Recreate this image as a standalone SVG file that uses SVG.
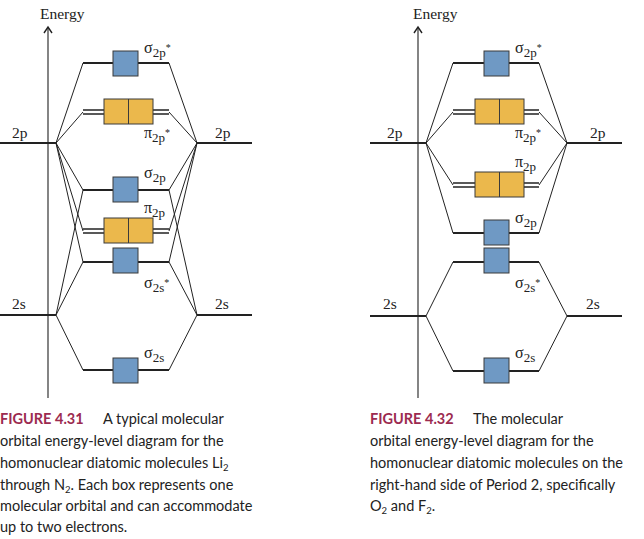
<svg xmlns="http://www.w3.org/2000/svg" width="644" height="539" viewBox="0 0 644 539">
<style>
.lvl{stroke:#222;stroke-width:2;fill:none}
.lv2{stroke:#222;stroke-width:1.6;fill:none}
.ax{stroke:#333;stroke-width:1.2;fill:none}
.con line{stroke:#222;stroke-width:1}
.bl{fill:#6f99c4;stroke:#3a3a3a;stroke-width:1}
.or{fill:#ebb84c;stroke:#3a3a3a;stroke-width:1}
.div{stroke:#3a3a3a;stroke-width:1}
.t{font-family:"Liberation Serif","DejaVu Serif",serif;font-size:15.5px;fill:#222}
.mo{font-family:"Liberation Serif","DejaVu Serif",serif;font-size:16px;fill:#222}
.sub{font-size:13px}
.sup{font-size:10px}
.cap{font-family:Lato,"Open Sans","Liberation Sans",sans-serif;font-size:14.5px;fill:#222}
.fig{font-weight:bold;fill:#9c2b50;font-size:14.5px}
.cs{font-size:9.5px}
</style>

<!-- ============ LEFT DIAGRAM (Fig 4.31) ============ -->
<g id="axis-left">
<line class="ax" x1="48" y1="27" x2="48" y2="398"/>
<path d="M44,33 L48,27 L52,33" fill="none" stroke="#222" stroke-width="1.4"/>
<text class="t" x="40" y="19">Energy</text>
</g>

<g id="connectors-left" class="con">
<line x1="56" y1="143" x2="83" y2="63"/>
<line x1="56" y1="143" x2="83" y2="112"/>
<line x1="56" y1="143" x2="83" y2="190"/>
<line x1="56" y1="143" x2="83" y2="231"/>
<line x1="56" y1="143" x2="83" y2="262"/>
<line x1="56" y1="315" x2="83" y2="190"/>
<line x1="56" y1="315" x2="83" y2="262"/>
<line x1="56" y1="315" x2="83" y2="370"/>
<line x1="197" y1="143" x2="169" y2="63"/>
<line x1="197" y1="143" x2="169" y2="112"/>
<line x1="197" y1="143" x2="169" y2="190"/>
<line x1="197" y1="143" x2="169" y2="231"/>
<line x1="197" y1="143" x2="169" y2="262"/>
<line x1="197" y1="315" x2="169" y2="190"/>
<line x1="197" y1="315" x2="169" y2="262"/>
<line x1="197" y1="315" x2="169" y2="370"/>
</g>

<g id="L-2p-left"><line class="lvl" x1="0" y1="143" x2="56" y2="143"/><text class="t" x="12" y="138">2p</text></g>
<g id="L-2p-right"><line class="lvl" x1="197" y1="143" x2="252" y2="143"/><text class="t" x="215" y="138">2p</text></g>
<g id="L-2s-left"><line class="lvl" x1="0" y1="315" x2="56" y2="315"/><text class="t" x="12" y="309">2s</text></g>
<g id="L-2s-right"><line class="lvl" x1="197" y1="315" x2="252" y2="315"/><text class="t" x="215" y="309">2s</text></g>

<g id="L-sigma2p-star">
<line class="lvl" x1="83" y1="63" x2="169" y2="63"/>
<rect class="bl" x="113" y="51" width="25" height="25"/>
<text class="mo" x="144" y="53">σ<tspan class="sub" dy="4">2p</tspan><tspan class="sup" dy="-6">*</tspan></text>
</g>
<g id="L-pi2p-star">
<line class="lv2" x1="83" y1="110" x2="169" y2="110"/>
<line class="lv2" x1="83" y1="114" x2="169" y2="114"/>
<rect class="or" x="104" y="99" width="49" height="25"/>
<line class="div" x1="128.5" y1="99" x2="128.5" y2="124"/>
<text class="mo" x="144" y="138">π<tspan class="sub" dy="4">2p</tspan><tspan class="sup" dy="-6">*</tspan></text>
</g>
<g id="L-sigma2p">
<line class="lvl" x1="83" y1="190" x2="169" y2="190"/>
<rect class="bl" x="113" y="177" width="25" height="25"/>
<text class="mo" x="144" y="178">σ<tspan class="sub" dy="4">2p</tspan></text>
</g>
<g id="L-pi2p">
<line class="lv2" x1="83" y1="229" x2="169" y2="229"/>
<line class="lv2" x1="83" y1="233" x2="169" y2="233"/>
<rect class="or" x="104" y="218" width="49" height="25"/>
<line class="div" x1="128.5" y1="218" x2="128.5" y2="243"/>
<text class="mo" x="144" y="213">π<tspan class="sub" dy="4">2p</tspan></text>
</g>
<g id="L-sigma2s-star">
<line class="lvl" x1="83" y1="262" x2="169" y2="262"/>
<rect class="bl" x="113" y="248" width="25" height="25"/>
<text class="mo" x="144" y="288">σ<tspan class="sub" dy="4">2s</tspan><tspan class="sup" dy="-6">*</tspan></text>
</g>
<g id="L-sigma2s">
<line class="lvl" x1="83" y1="370" x2="169" y2="370"/>
<rect class="bl" x="113" y="358" width="25" height="25"/>
<text class="mo" x="144" y="358">σ<tspan class="sub" dy="4">2s</tspan></text>
</g>

<!-- ============ RIGHT DIAGRAM (Fig 4.32) ============ -->
<g id="axis-right">
<line class="ax" x1="418" y1="27" x2="418" y2="398"/>
<path d="M414,33 L418,27 L422,33" fill="none" stroke="#222" stroke-width="1.4"/>
<text class="t" x="413" y="19">Energy</text>
</g>

<g id="connectors-right" class="con">
<line x1="426" y1="143" x2="453" y2="63"/>
<line x1="426" y1="143" x2="453" y2="112"/>
<line x1="426" y1="143" x2="453" y2="185"/>
<line x1="426" y1="143" x2="453" y2="233"/>
<line x1="426" y1="316" x2="453" y2="262"/>
<line x1="426" y1="316" x2="453" y2="371"/>
<line x1="567" y1="143" x2="539" y2="63"/>
<line x1="567" y1="143" x2="539" y2="112"/>
<line x1="567" y1="143" x2="539" y2="185"/>
<line x1="567" y1="143" x2="539" y2="233"/>
<line x1="567" y1="316" x2="539" y2="262"/>
<line x1="567" y1="316" x2="539" y2="371"/>
</g>

<g id="R-2p-left"><line class="lvl" x1="370" y1="143" x2="426" y2="143"/><text class="t" x="387" y="138">2p</text></g>
<g id="R-2p-right"><line class="lvl" x1="567" y1="143" x2="622" y2="143"/><text class="t" x="590" y="138">2p</text></g>
<g id="R-2s-left"><line class="lvl" x1="370" y1="316" x2="426" y2="316"/><text class="t" x="383" y="309">2s</text></g>
<g id="R-2s-right"><line class="lvl" x1="567" y1="316" x2="622" y2="316"/><text class="t" x="586" y="309">2s</text></g>

<g id="R-sigma2p-star">
<line class="lvl" x1="453" y1="63" x2="539" y2="63"/>
<rect class="bl" x="484" y="51" width="25" height="25"/>
<text class="mo" x="515" y="53">σ<tspan class="sub" dy="4">2p</tspan><tspan class="sup" dy="-6">*</tspan></text>
</g>
<g id="R-pi2p-star">
<line class="lv2" x1="453" y1="110" x2="539" y2="110"/>
<line class="lv2" x1="453" y1="114" x2="539" y2="114"/>
<rect class="or" x="475" y="99" width="49" height="25"/>
<line class="div" x1="499.5" y1="99" x2="499.5" y2="124"/>
<text class="mo" x="515" y="138">π<tspan class="sub" dy="4">2p</tspan><tspan class="sup" dy="-6">*</tspan></text>
</g>
<g id="R-pi2p">
<line class="lv2" x1="453" y1="183" x2="539" y2="183"/>
<line class="lv2" x1="453" y1="187" x2="539" y2="187"/>
<rect class="or" x="475" y="172" width="49" height="25"/>
<line class="div" x1="499.5" y1="172" x2="499.5" y2="197"/>
<text class="mo" x="515" y="167">π<tspan class="sub" dy="4">2p</tspan></text>
</g>
<g id="R-sigma2p">
<line class="lvl" x1="453" y1="233" x2="539" y2="233"/>
<rect class="bl" x="484" y="220" width="25" height="25"/>
<text class="mo" x="515" y="223">σ<tspan class="sub" dy="4">2p</tspan></text>
</g>
<g id="R-sigma2s-star">
<line class="lvl" x1="453" y1="262" x2="539" y2="262"/>
<rect class="bl" x="484" y="248" width="25" height="25"/>
<text class="mo" x="515" y="288">σ<tspan class="sub" dy="4">2s</tspan><tspan class="sup" dy="-6">*</tspan></text>
</g>
<g id="R-sigma2s">
<line class="lvl" x1="453" y1="371" x2="539" y2="371"/>
<rect class="bl" x="484" y="358" width="25" height="25"/>
<text class="mo" x="515" y="358">σ<tspan class="sub" dy="4">2s</tspan></text>
</g>

<!-- ============ CAPTIONS ============ -->
<g id="caption-left" class="cap">
<text x="0" y="424"><tspan class="fig">FIGURE 4.31</tspan><tspan x="103">A typical molecular</tspan></text>
<text x="0" y="446">orbital energy-level diagram for the</text>
<text x="0" y="468">homonuclear diatomic molecules Li<tspan class="cs" dy="3">2</tspan></text>
<text x="0" y="490">through N<tspan class="cs" dy="3">2</tspan><tspan dy="-3">. Each box represents one</tspan></text>
<text x="0" y="511">molecular orbital and can accommodate</text>
<text x="0" y="532">up to two electrons.</text>
</g>
<g id="caption-right" class="cap">
<text x="370" y="424"><tspan class="fig">FIGURE 4.32</tspan><tspan x="473">The molecular</tspan></text>
<text x="370" y="446">orbital energy-level diagram for the</text>
<text x="370" y="468">homonuclear diatomic molecules on the</text>
<text x="370" y="490">right-hand side of Period 2, specifically</text>
<text x="370" y="511">O<tspan class="cs" dy="3">2</tspan><tspan dy="-3"> and F</tspan><tspan class="cs" dy="3">2</tspan><tspan dy="-3">.</tspan></text>
</g>
</svg>
